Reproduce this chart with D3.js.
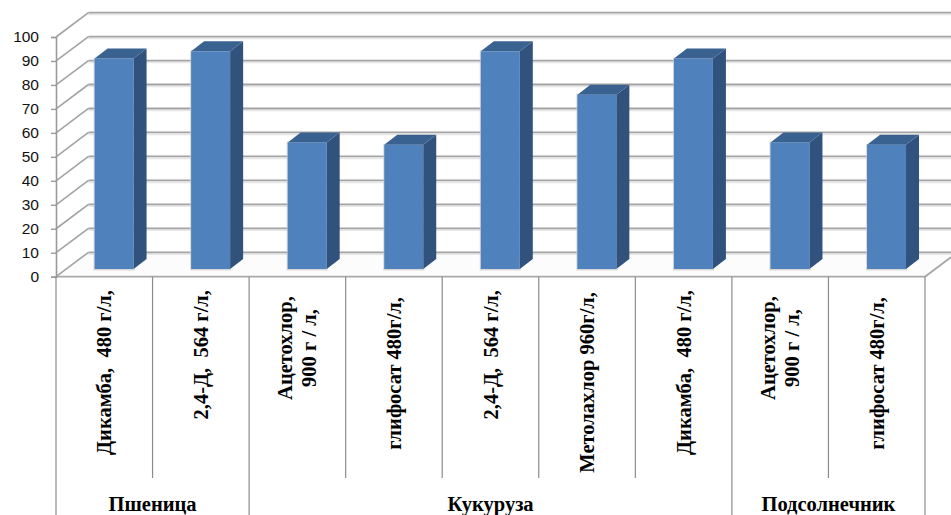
<!DOCTYPE html>
<html><head><meta charset="utf-8">
<script src="https://cdn.jsdelivr.net/npm/d3@7"></script>
<style>html,body{margin:0;padding:0;background:#fff}svg{display:block}</style>
</head><body><svg id="c" width="951" height="515"></svg>
<script>
const categories=[["Дикамба,  480 г/л,"],["2,4-Д,  564 г/л,"],["Ацетохлор,","900 г / л,"],["глифосат 480г/л,"],["2,4-Д,  564 г/л,"],["Метолахлор 960г/л,"],["Дикамба,  480 г/л,"],["Ацетохлор,","900 г / л,"],["глифосат 480г/л,"]];
const values=[87.8,90.8,52.8,51.8,90.8,72.7,87.8,52.8,51.8];
const groupNames=["Пшеница","Кукуруза","Подсолнечник"];
const groupSizes=[2,5,2];
const yTicks=[0,10,20,30,40,50,60,70,80,90,100];

const W=951,H=515;
const left=56,right=925,y0=276.7,y100=37;
const depthX=32.5,depthY=24.4;      // wall depth
const barOffX=9.8,barOffY=7.7,barDX=13,barDY=10; // bar placement in depth
const minorBottom=478;
const labelEnd=[290,290,293,297,290,292,290,293,297];

const svg=d3.select("#c");
const x=d3.scaleBand().domain(d3.range(categories.length)).range([left,right]).paddingInner(0).paddingOuter(0);
const y=d3.scaleLinear().domain([0,100]).range([y0,y100]);
const grid="#a3a3a3";

// floor
svg.append("path").attr("fill","#fcfcfc")
 .attr("d",`M${left},${y(0)}L${left+depthX},${y(0)-depthY}L${W+10},${y(0)-depthY}L${right},${y(0)}Z`);

// back-wall shadows and gridlines
const g=svg.append("g");
g.selectAll("line.s").data(yTicks).join("line").attr("x1",left+depthX).attr("x2",W)
 .attr("y1",d=>y(d)-depthY+2).attr("y2",d=>y(d)-depthY+2).attr("stroke","#e6e6e6").attr("stroke-width",1.5);
g.selectAll("line.b").data(yTicks).join("line").attr("x1",left+depthX).attr("x2",W)
 .attr("y1",d=>y(d)-depthY).attr("y2",d=>y(d)-depthY).attr("stroke",grid).attr("stroke-width",1.8);
g.selectAll("line.d").data(yTicks).join("line").attr("x1",left).attr("x2",left+depthX)
 .attr("y1",d=>y(d)).attr("y2",d=>y(d)-depthY).attr("stroke",grid).attr("stroke-width",1.6);

// floor edges
svg.append("line").attr("x1",left).attr("x2",right).attr("y1",y0).attr("y2",y0).attr("stroke","#a8a8a8").attr("stroke-width",1.8);
svg.append("line").attr("x1",right).attr("y1",y0).attr("x2",W).attr("y2",y0-(W-right)*depthY/depthX).attr("stroke",grid).attr("stroke-width",1.8);

// bars
const barW=39;
const barY=v=>y(v)-barOffY;
const bx=i=>x(i)+x.bandwidth()/2-barW/2+barOffX;
const bars=svg.append("g").selectAll("g").data(values).join("g");
bars.append("rect").attr("x",(d,i)=>bx(i)-1).attr("y",d=>barY(d)-1).attr("width",barW+2).attr("height",d=>barY(0)-barY(d)+2.5).attr("fill","#c9c9c9").attr("opacity",.7);
bars.append("path").attr("fill","#30527c")
 .attr("d",(d,i)=>`M${bx(i)+barW},${barY(d)}l${barDX},${-barDY}V${barY(0)-barDY}l${-barDX},${barDY}Z`);
bars.append("path").attr("fill","#3a6291")
 .attr("d",(d,i)=>`M${bx(i)},${barY(d)}l${barDX},${-barDY}h${barW}l${-barDX},${barDY}Z`);
bars.append("rect").attr("x",(d,i)=>bx(i)).attr("y",d=>barY(d)).attr("width",barW).attr("height",d=>barY(0)-barY(d)).attr("fill","#4f81bd");

// y axis
const ax=svg.append("g").attr("transform",`translate(${left},0)`)
 .call(d3.axisLeft(y).tickValues(yTicks).tickSize(5).tickPadding(12));
ax.selectAll(".domain").attr("stroke","#9a9a9a").attr("stroke-width",1.6);
ax.selectAll(".tick line").attr("stroke","#9a9a9a").attr("stroke-width",1.4);
ax.selectAll("text").attr("fill","#111").style("font","15.5px 'Liberation Sans',sans-serif");

// category separators
const sep=svg.append("g");
let acc=0;const groupEdges=new Set([0]);groupSizes.forEach(n=>{acc+=n;groupEdges.add(acc)});
sep.selectAll("line").data(d3.range(categories.length+1)).join("line")
 .attr("x1",i=>left+i*x.bandwidth()).attr("x2",i=>left+i*x.bandwidth())
 .attr("y1",y0).attr("y2",i=>groupEdges.has(i)?H:minorBottom)
 .attr("stroke","#8c8c8c").attr("stroke-width",1.2);

// category labels
const serif="'Liberation Serif',serif";
const fs=20.5;
categories.forEach((lines,i)=>{
  const cx=x(i)+x.bandwidth()/2;
  const lh=24;
  lines.forEach((t,k)=>{
    const lx=cx+(k-(lines.length-1)/2)*lh+7;
    const two=lines.length>1;
    const ly=two?348:labelEnd[i];
    svg.append("text").attr("transform",`translate(${lx},${ly}) rotate(-90)`)
     .attr("text-anchor",two?"middle":"end").attr("xml:space","preserve")
     .style("font",`bold ${fs}px ${serif}`).style("white-space","pre").attr("fill","#000").text(t);
  });
});

// group labels
let start=0;
groupNames.forEach((n,i)=>{
  const cx=left+(start+groupSizes[i]/2)*x.bandwidth();
  svg.append("text").attr("x",cx).attr("y",511).attr("text-anchor","middle")
   .style("font",`bold ${fs}px ${serif}`).attr("fill","#000").text(n);
  start+=groupSizes[i];
});
</script></body></html>
